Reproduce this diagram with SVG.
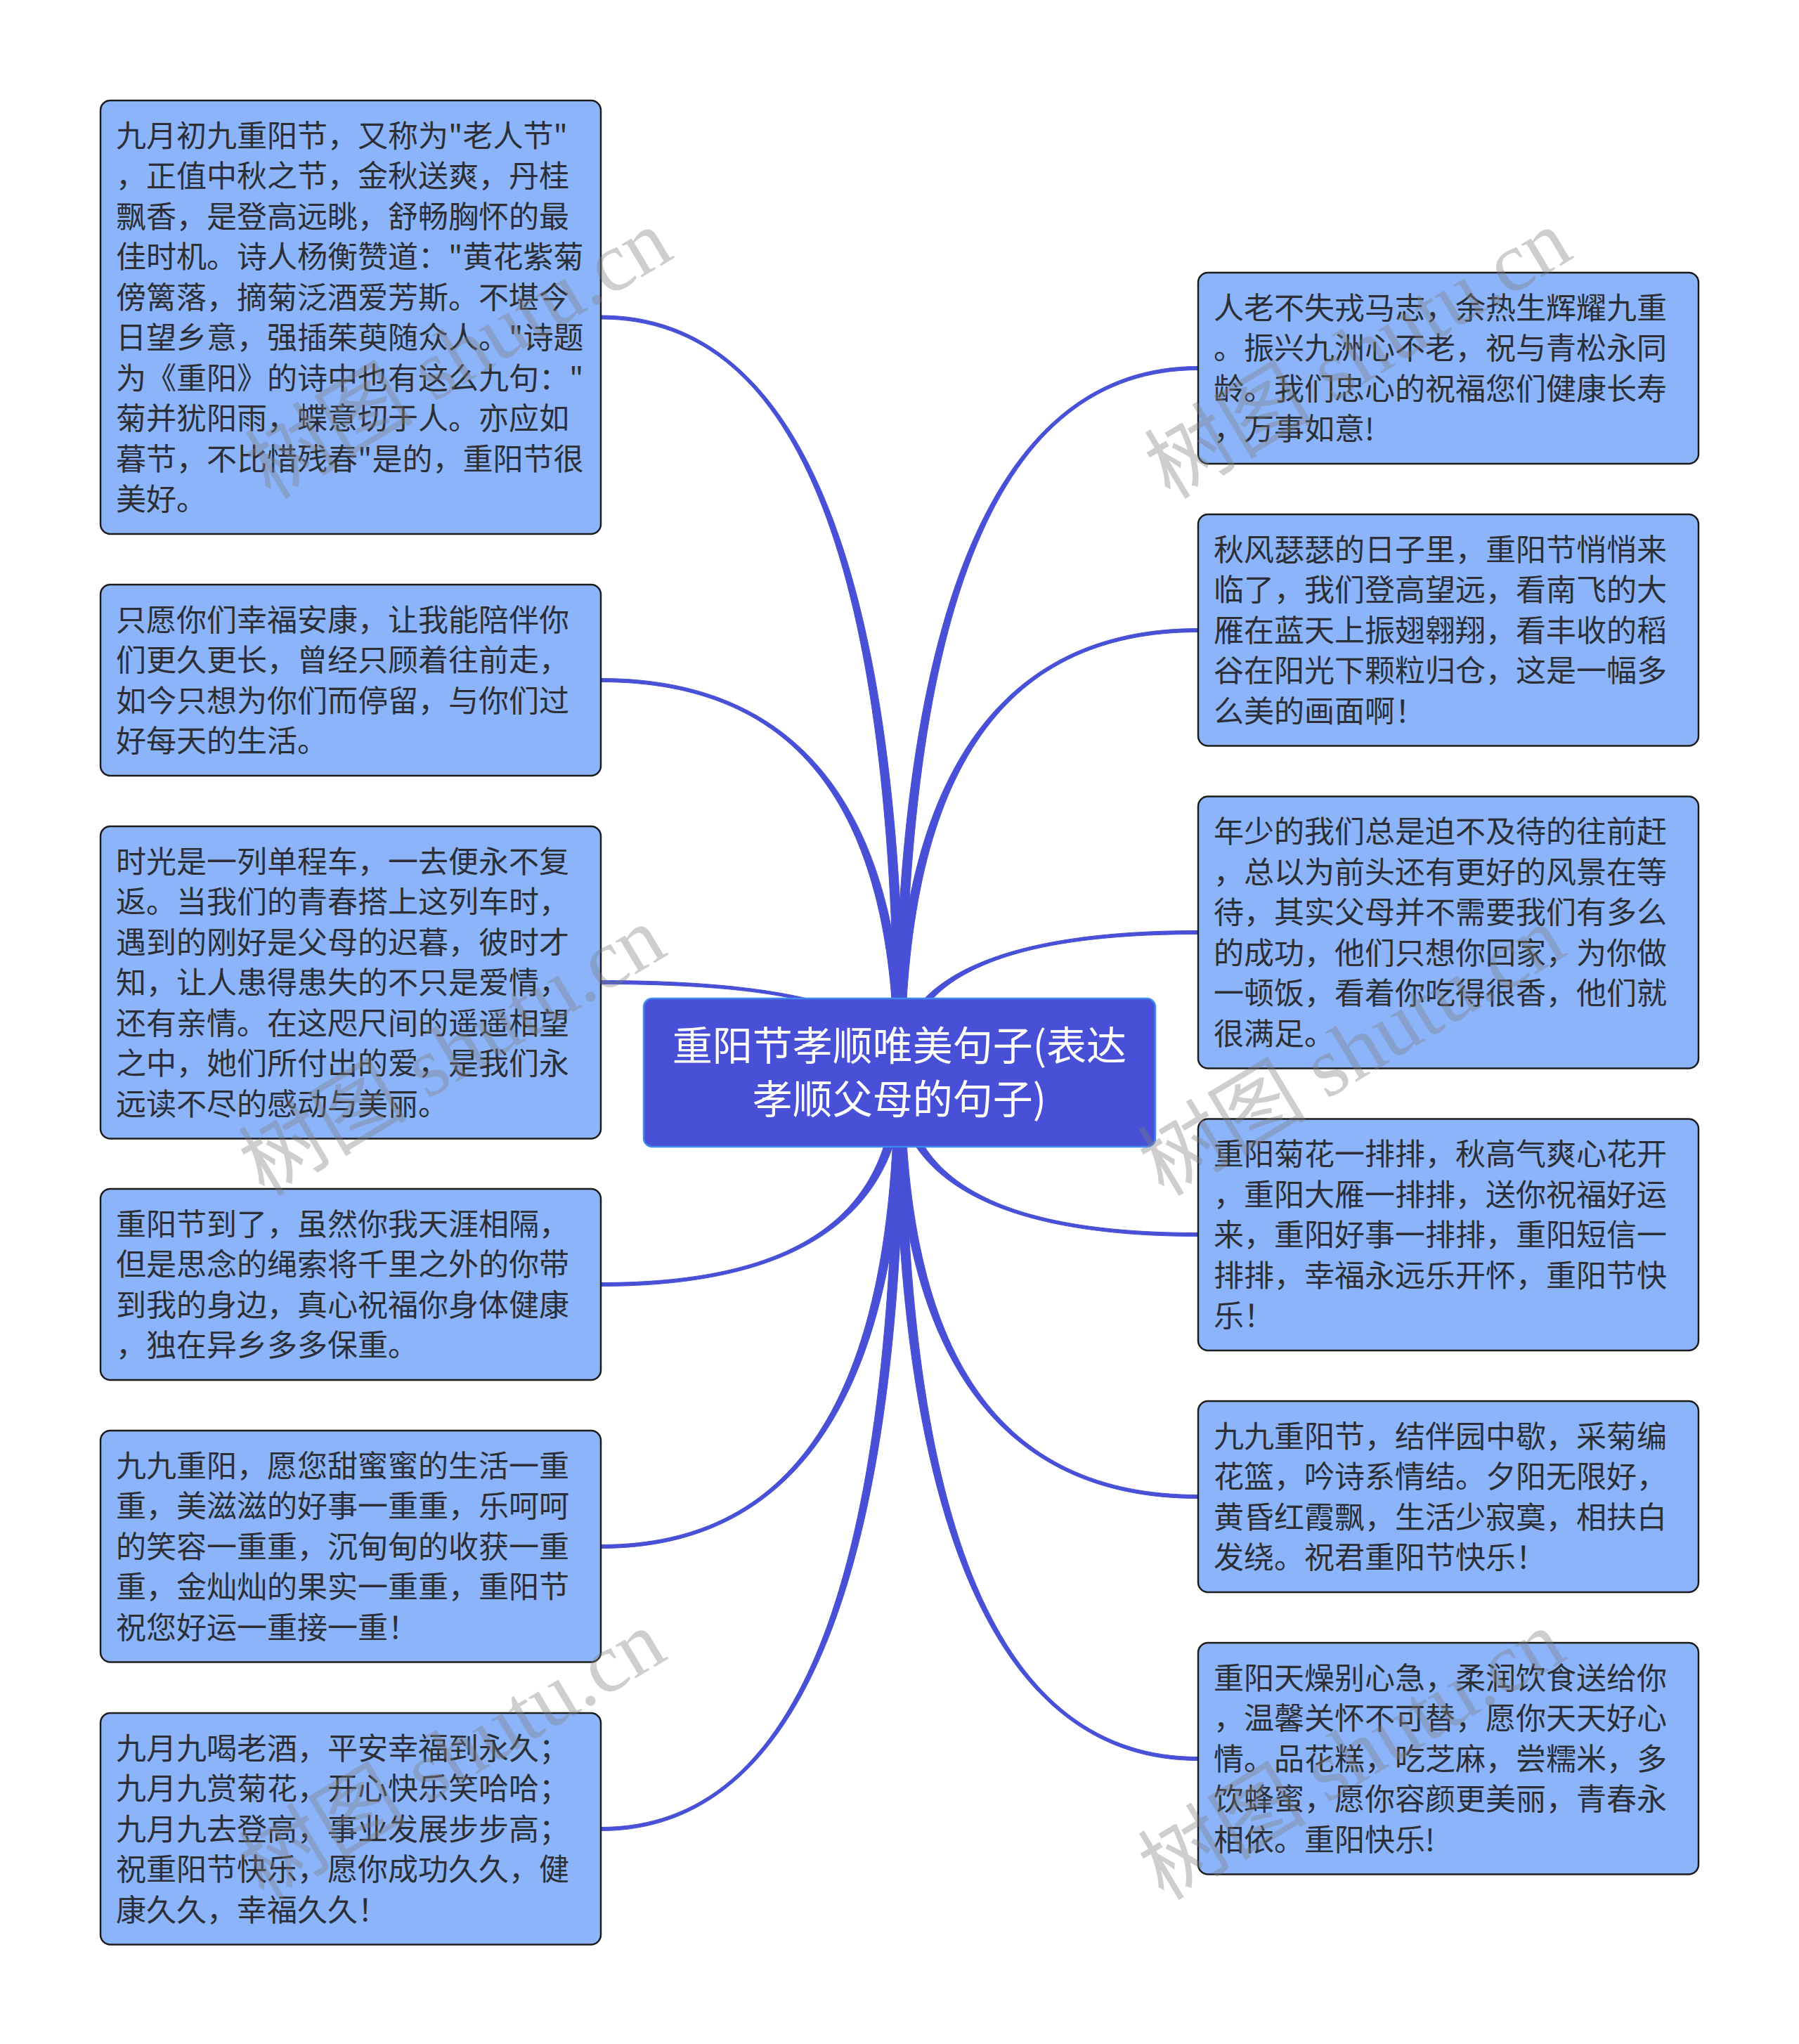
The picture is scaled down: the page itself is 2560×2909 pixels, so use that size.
<svg xmlns="http://www.w3.org/2000/svg" width="2560" height="2909" viewBox="0 0 2560 2909">
<style>
.bg{fill:#ffffff}
.conn path{fill:#4750d6;stroke:#4750d6;stroke-width:1}
.node rect{fill:#8bb4fa;stroke:#1c1c1c;stroke-width:2.5}
.node text{font-family:"Noto Sans CJK SC","Noto Sans",sans-serif;font-size:43px;fill:#2d2f36}
.root rect{fill:#4750d6;stroke:#3f8af2;stroke-width:2.5}
.root text{font-family:"Noto Sans CJK SC","Noto Sans",sans-serif;font-size:57px;fill:#ffffff;text-anchor:middle}
.wm{font-family:"Liberation Serif","Noto Sans CJK SC",serif;font-size:120px;fill:#808080;opacity:0.38}
</style>
<rect class="bg" x="0" y="0" width="2560" height="2909"/>
<g id="connectors" class="conn">
<path d="M1273 1526 C1273 809.7 1138.3 454 855 454 L855 449 C1138.3 449 1287 809.7 1287 1526 Z"/>
<path d="M1273 1526 C1273 1154 1138.3 970.5 855 970.5 L855 965.5 C1138.3 965.5 1287 1154 1287 1526 Z"/>
<path d="M1273 1526 C1273 1440.7 1138.3 1400.5 855 1400.5 L855 1395.5 C1138.3 1395.5 1287 1440.7 1287 1526 Z"/>
<path d="M1273 1526 C1273 1727.3 1138.3 1825.5 855 1825.5 L855 1830.5 C1138.3 1830.5 1287 1727.3 1287 1526 Z"/>
<path d="M1273 1526 C1273 1976 1138.3 2198.5 855 2198.5 L855 2203.5 C1138.3 2203.5 1287 1976 1287 1526 Z"/>
<path d="M1273 1526 C1273 2244 1138.3 2600.5 855 2600.5 L855 2605.5 C1138.3 2605.5 1287 2244 1287 1526 Z"/>
<path d="M1273 1526 C1273 858 1421.7 521.5 1705 521.5 L1705 526.5 C1421.7 526.5 1287 858 1287 1526 Z"/>
<path d="M1273 1526 C1273 1106.7 1421.7 894.5 1705 894.5 L1705 899.5 C1421.7 899.5 1287 1106.7 1287 1526 Z"/>
<path d="M1273 1526 C1273 1393.3 1421.7 1324.5 1705 1324.5 L1705 1329.5 C1421.7 1329.5 1287 1393.3 1287 1526 Z"/>
<path d="M1273 1526 C1273 1680 1421.7 1759.5 1705 1759.5 L1705 1754.5 C1421.7 1754.5 1287 1680 1287 1526 Z"/>
<path d="M1273 1526 C1273 1928.7 1421.7 2132.5 1705 2132.5 L1705 2127.5 C1421.7 2127.5 1287 1928.7 1287 1526 Z"/>
<path d="M1273 1526 C1273 2177.3 1421.7 2505.5 1705 2505.5 L1705 2500.5 C1421.7 2500.5 1287 2177.3 1287 1526 Z"/>
</g>
<g id="root" class="root">
<rect x="916" y="1421" width="728" height="211" rx="12"/>
<text x="1280" y="1509">重阳节孝顺唯美句子(表达</text>
<text x="1280" y="1585">孝顺父母的句子)</text>
</g>
<g id="node-l1" class="node">
<rect x="143" y="143" width="712" height="617" rx="14"/>
<text x="165" y="208.75">九月初九重阳节，又称为"老人节"</text>
<text x="165" y="266.25">，正值中秋之节，金秋送爽，丹桂</text>
<text x="165" y="323.75">飘香，是登高远眺，舒畅胸怀的最</text>
<text x="165" y="381.25">佳时机。诗人杨衡赞道："黄花紫菊</text>
<text x="165" y="438.75">傍篱落，摘菊泛酒爱芳斯。不堪今</text>
<text x="165" y="496.25">日望乡意，强插茱萸随众人。"诗题</text>
<text x="165" y="553.75">为《重阳》的诗中也有这么九句："</text>
<text x="165" y="611.25">菊并犹阳雨，蝶意切于人。亦应如</text>
<text x="165" y="668.75">暮节，不比惜残春"是的，重阳节很</text>
<text x="165" y="726.25">美好。</text>
</g>
<g id="node-l2" class="node">
<rect x="143" y="832" width="712" height="272" rx="14"/>
<text x="165" y="897.75">只愿你们幸福安康，让我能陪伴你</text>
<text x="165" y="955.25">们更久更长，曾经只顾着往前走，</text>
<text x="165" y="1012.75">如今只想为你们而停留，与你们过</text>
<text x="165" y="1070.25">好每天的生活。</text>
</g>
<g id="node-l3" class="node">
<rect x="143" y="1176" width="712" height="444.5" rx="14"/>
<text x="165" y="1241.75">时光是一列单程车，一去便永不复</text>
<text x="165" y="1299.25">返。当我们的青春搭上这列车时，</text>
<text x="165" y="1356.75">遇到的刚好是父母的迟暮，彼时才</text>
<text x="165" y="1414.25">知，让人患得患失的不只是爱情，</text>
<text x="165" y="1471.75">还有亲情。在这咫尺间的遥遥相望</text>
<text x="165" y="1529.25">之中，她们所付出的爱，是我们永</text>
<text x="165" y="1586.75">远读不尽的感动与美丽。</text>
</g>
<g id="node-l4" class="node">
<rect x="143" y="1692" width="712" height="272" rx="14"/>
<text x="165" y="1757.75">重阳节到了，虽然你我天涯相隔，</text>
<text x="165" y="1815.25">但是思念的绳索将千里之外的你带</text>
<text x="165" y="1872.75">到我的身边，真心祝福你身体健康</text>
<text x="165" y="1930.25">，独在异乡多多保重。</text>
</g>
<g id="node-l5" class="node">
<rect x="143" y="2036" width="712" height="329.5" rx="14"/>
<text x="165" y="2101.75">九九重阳，愿您甜蜜蜜的生活一重</text>
<text x="165" y="2159.25">重，美滋滋的好事一重重，乐呵呵</text>
<text x="165" y="2216.75">的笑容一重重，沉甸甸的收获一重</text>
<text x="165" y="2274.25">重，金灿灿的果实一重重，重阳节</text>
<text x="165" y="2331.75">祝您好运一重接一重！</text>
</g>
<g id="node-l6" class="node">
<rect x="143" y="2438" width="712" height="329.5" rx="14"/>
<text x="165" y="2503.75">九月九喝老酒，平安幸福到永久；</text>
<text x="165" y="2561.25">九月九赏菊花，开心快乐笑哈哈；</text>
<text x="165" y="2618.75">九月九去登高，事业发展步步高；</text>
<text x="165" y="2676.25">祝重阳节快乐，愿你成功久久，健</text>
<text x="165" y="2733.75">康久久，幸福久久！</text>
</g>
<g id="node-r1" class="node">
<rect x="1705" y="388" width="712" height="272" rx="14"/>
<text x="1727" y="453.75">人老不失戎马志，余热生辉耀九重</text>
<text x="1727" y="511.25">。振兴九洲心不老，祝与青松永同</text>
<text x="1727" y="568.75">龄。我们忠心的祝福您们健康长寿</text>
<text x="1727" y="626.25">，万事如意!</text>
</g>
<g id="node-r2" class="node">
<rect x="1705" y="732" width="712" height="329.5" rx="14"/>
<text x="1727" y="797.75">秋风瑟瑟的日子里，重阳节悄悄来</text>
<text x="1727" y="855.25">临了，我们登高望远，看南飞的大</text>
<text x="1727" y="912.75">雁在蓝天上振翅翱翔，看丰收的稻</text>
<text x="1727" y="970.25">谷在阳光下颗粒归仓，这是一幅多</text>
<text x="1727" y="1027.75">么美的画面啊！</text>
</g>
<g id="node-r3" class="node">
<rect x="1705" y="1133.5" width="712" height="387" rx="14"/>
<text x="1727" y="1199.25">年少的我们总是迫不及待的往前赶</text>
<text x="1727" y="1256.75">，总以为前头还有更好的风景在等</text>
<text x="1727" y="1314.25">待，其实父母并不需要我们有多么</text>
<text x="1727" y="1371.75">的成功，他们只想你回家，为你做</text>
<text x="1727" y="1429.25">一顿饭，看着你吃得很香，他们就</text>
<text x="1727" y="1486.75">很满足。</text>
</g>
<g id="node-r4" class="node">
<rect x="1705" y="1592.5" width="712" height="329.5" rx="14"/>
<text x="1727" y="1658.25">重阳菊花一排排，秋高气爽心花开</text>
<text x="1727" y="1715.75">，重阳大雁一排排，送你祝福好运</text>
<text x="1727" y="1773.25">来，重阳好事一排排，重阳短信一</text>
<text x="1727" y="1830.75">排排，幸福永远乐开怀，重阳节快</text>
<text x="1727" y="1888.25">乐！</text>
</g>
<g id="node-r5" class="node">
<rect x="1705" y="1994" width="712" height="272" rx="14"/>
<text x="1727" y="2059.75">九九重阳节，结伴园中歇，采菊编</text>
<text x="1727" y="2117.25">花篮，吟诗系情结。夕阳无限好，</text>
<text x="1727" y="2174.75">黄昏红霞飘，生活少寂寞，相扶白</text>
<text x="1727" y="2232.25">发绕。祝君重阳节快乐！</text>
</g>
<g id="node-r6" class="node">
<rect x="1705" y="2338" width="712" height="329.5" rx="14"/>
<text x="1727" y="2403.75">重阳天燥别心急，柔润饮食送给你</text>
<text x="1727" y="2461.25">，温馨关怀不可替，愿你天天好心</text>
<text x="1727" y="2518.75">情。品花糕，吃芝麻，尝糯米，多</text>
<text x="1727" y="2576.25">饮蜂蜜，愿你容颜更美丽，青春永</text>
<text x="1727" y="2633.75">相依。重阳快乐!</text>
</g>
<g id="watermarks">
<text class="wm" x="385" y="712" transform="rotate(-31 385 712)">树图 shutu.cn</text>
<text class="wm" x="1665" y="712" transform="rotate(-31 1665 712)">树图 shutu.cn</text>
<text class="wm" x="376" y="1704" transform="rotate(-31 376 1704)">树图 shutu.cn</text>
<text class="wm" x="1656" y="1704" transform="rotate(-31 1656 1704)">树图 shutu.cn</text>
<text class="wm" x="376" y="2706" transform="rotate(-31 376 2706)">树图 shutu.cn</text>
<text class="wm" x="1656" y="2706" transform="rotate(-31 1656 2706)">树图 shutu.cn</text>
</g>
</svg>
